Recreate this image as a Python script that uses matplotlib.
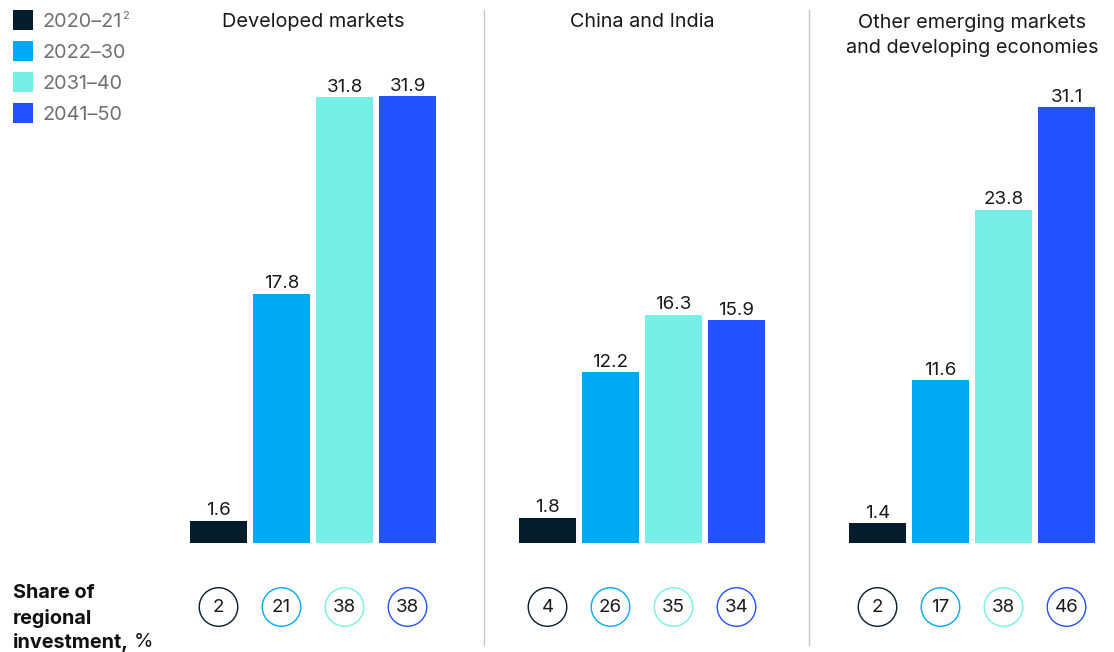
import matplotlib
matplotlib.use("Agg")
import matplotlib.pyplot as plt
from matplotlib.patches import Rectangle
from matplotlib.lines import Line2D

plt.rcParams['font.family'] = ['Inter', 'DejaVu Sans']

regions = ["Developed markets", "China and India",
           "Other emerging markets\nand developing economies"]
periods = ["2020–21", "2022–30", "2031–40", "2041–50"]
period_notes = ["2", "", "", ""]
colors = ["#051c2c", "#00a9f4", "#76f0e6", "#2251ff"]
values = [
    [1.6, 17.8, 31.8, 31.9],
    [1.8, 12.2, 16.3, 15.9],
    [1.4, 11.6, 23.8, 31.1],
]
shares = [
    [2, 21, 38, 38],
    [4, 26, 35, 34],
    [2, 17, 38, 46],
]

W, H = 1114, 652
fig = plt.figure(figsize=(W / 100, H / 100), dpi=100)

base_px = 543
ppu = 14.01          # pixels per unit
ymax = 35
ax_h_px = ymax * ppu
lefts_px = [187, 516, 846]
ax_w_px = 252
TXT = '#1a1a1a'
DY = 2  # visual centring correction (px)

for g, (reg, vals, sh) in enumerate(zip(regions, values, shares)):
    ax = fig.add_axes([lefts_px[g] / W, (H - base_px) / H, ax_w_px / W, ax_h_px / H])
    ax.set_xlim(-0.5, 3.5)
    ax.set_ylim(0, ymax)
    ax.axis('off')
    xs = range(len(vals))
    ax.bar(xs, vals, width=57 / 63, color=colors)
    for x, v in zip(xs, vals):
        ax.text(x, v + 0.1, f"{v:.1f}", ha='center', va='bottom', fontsize=13.5, color=TXT)
    ycirc = -(607 - base_px) / ppu
    ax.scatter(list(xs), [ycirc] * 4, s=770, facecolors='white', edgecolors=colors,
               linewidths=1.0, clip_on=False, zorder=3)
    for x, s in zip(xs, sh):
        ax.text(x, ycirc - 1 / ppu, str(s), ha='center', va='center', fontsize=13.5,
                color=TXT, zorder=4, clip_on=False)
    yc = 20 if '\n' not in reg else 33.5
    ax.text(1.5, (base_px - yc - DY) / ppu, reg, ha='center', va='center',
            fontsize=14.3, color=TXT, linespacing=1.5, clip_on=False)

# separators
for xp in [484, 809]:
    fig.add_artist(Line2D([xp / W, xp / W], [(H - 10) / H, (H - 645) / H],
                          color='#c8c8c8', linewidth=1))

# legend (manual)
fig.canvas.draw()
for i, (c, lab, note) in enumerate(zip(colors, periods, period_notes)):
    top = 10 + 31 * i
    fig.add_artist(Rectangle((13 / W, 1 - (top + 20) / H), 20 / W, 20 / H,
                             facecolor=c, edgecolor='none', transform=fig.transFigure))
    t = fig.text(42 / W, 1 - (top + 10 + DY) / H, lab, ha='left', va='center',
                 fontsize=14.3, color='#707070')
    if note:
        bb = t.get_window_extent(renderer=fig.canvas.get_renderer())
        fig.text((bb.x1 + 1) / W, 1 - (top + 6) / H, note, ha='left', va='center',
                 fontsize=8, color='#707070')

# bottom-left label
fs_b = 14.3
fig.text(13 / W, 1 - (591 + DY) / H, "Share of", ha='left', va='center', fontsize=fs_b, fontweight='bold', color='#111111')
fig.text(13 / W, 1 - (616 + DY) / H, "regional", ha='left', va='center', fontsize=fs_b, fontweight='bold', color='#111111')
t3 = fig.text(13 / W, 1 - (640 + DY) / H, "investment,", ha='left', va='center', fontsize=fs_b, fontweight='bold', color='#111111')
fig.canvas.draw()
bb = t3.get_window_extent()
fig.text((bb.x1 + 5) / W, 1 - (640 + DY) / H, "%", ha='left', va='center', fontsize=fs_b, color='#111111')

fig.savefig("out.png", dpi=100)
